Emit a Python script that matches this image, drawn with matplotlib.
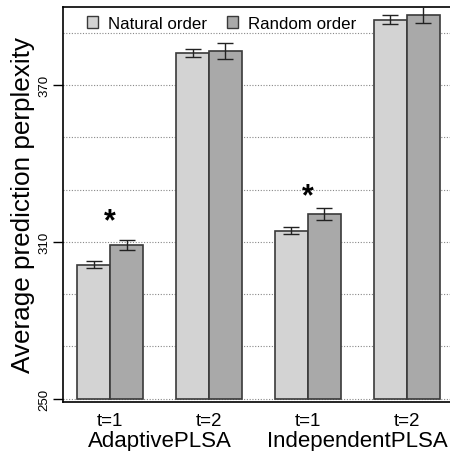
import matplotlib
matplotlib.use('Agg')
import matplotlib.pyplot as plt
from matplotlib.patches import Patch

plt.rcParams['font.family'] = ['Liberation Sans', 'DejaVu Sans']

# Average prediction perplexity per model and window size t
models = ['AdaptivePLSA', 'IndependentPLSA']
windows = ['t=1', 't=2', 't=1', 't=2']
natural = [301.3, 382.1, 314.2, 395.0]
natural_err = [1.3, 1.5, 1.3, 1.6]
random_ = [308.8, 383.1, 320.6, 396.9]
random_err = [2.0, 3.1, 2.3, 3.2]
# height of the significance marker, None where there is none
star_at = [317.7, None, 327.3, None]

light = '#d3d3d3'
dark = '#a9a9a9'
edge = '#3a3a3a'

fig = plt.figure(figsize=(4.5, 4.52), dpi=100)
ax = fig.add_axes([0.1396, 0.1084, 0.8693, 0.8748])

# grouped bars: two bars per group with one bar-width gap between groups
left = [1 + 3 * i for i in range(len(windows))]
right = [x + 1 for x in left]

for y in range(250, 400, 20):
    ax.axhline(y, color='#888888', lw=0.8, ls=(0, (1, 1.5)), zorder=0)

ax.bar(left, [v - 250 for v in natural], bottom=250, width=1, align='edge',
       color=light, edgecolor=edge, lw=1.2, zorder=2)
ax.bar(right, [v - 250 for v in random_], bottom=250, width=1, align='edge',
       color=dark, edgecolor=edge, lw=1.2, zorder=2)

ax.errorbar([x + 0.5 for x in left], natural, yerr=natural_err, fmt='none',
            ecolor='#222222', elinewidth=1, capsize=6, capthick=1, zorder=3)
ax.errorbar([x + 0.5 for x in right], random_, yerr=random_err, fmt='none',
            ecolor='#222222', elinewidth=1, capsize=6, capthick=1, zorder=3)

for x, s in zip(right, star_at):
    if s is not None:
        ax.text(x, s, '*', ha='center', va='center',
                fontsize=22, fontweight='bold', zorder=4)

ax.set_xlim(0.56, 12.44)
ax.set_ylim(248.74, 400)

ax.set_yticks([250, 310, 370])
ax.set_yticklabels(['250', '310', '370'], rotation=90, va='center', fontsize=9.5)
ax.tick_params(axis='y', length=7, width=1, pad=2)
ax.set_xticks([])
for side in ['left', 'bottom', 'top', 'right']:
    ax.spines[side].set_linewidth(1.2)

fig.text(23 / 450, 0.5465, 'Average prediction perplexity', rotation=90,
         ha='center', va='center', fontsize=18.8)

# window labels and model names below the axis
for x, w in zip(right, windows):
    ax.text(x, -0.058, w, transform=ax.get_xaxis_transform(), ha='center',
            va='baseline', fontsize=13.5)
for k, name in enumerate(models):
    xc = (right[2 * k] + right[2 * k + 1]) / 2
    ax.text(xc, -0.111, name, transform=ax.get_xaxis_transform(), ha='center',
            va='baseline', fontsize=16)

handles = [Patch(facecolor=light, edgecolor=edge, lw=1),
           Patch(facecolor=dark, edgecolor=edge, lw=1)]
ax.legend(handles, ['Natural order', 'Random order'], ncol=2, frameon=False,
          loc='upper left', bbox_to_anchor=(0.022, 1.015), fontsize=12.2,
          handlelength=0.65, handleheight=0.65, handletextpad=0.6, columnspacing=1.2)

fig.savefig('out.png', dpi=100)
